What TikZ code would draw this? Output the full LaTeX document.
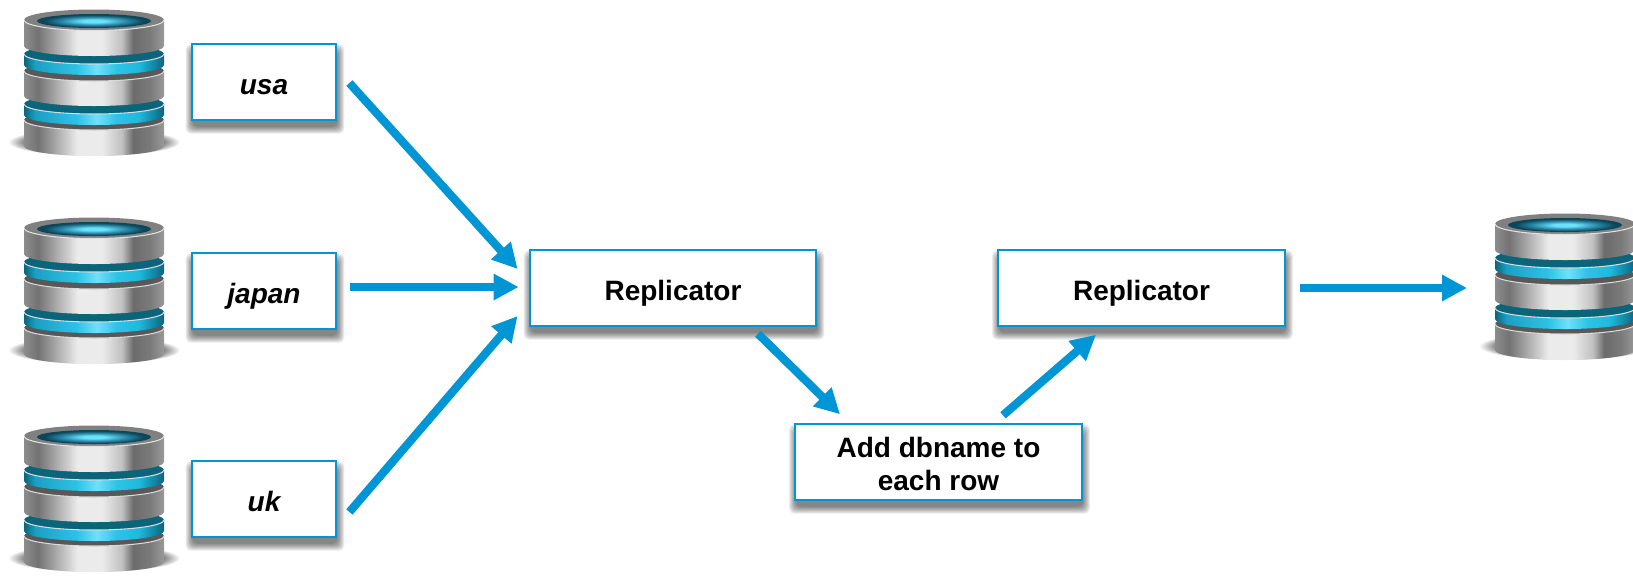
\documentclass[tikz,border=0pt]{standalone}
\usepackage{fontspec}
\setmainfont{Liberation Sans}
\usetikzlibrary{arrows.meta}
\usetikzlibrary{backgrounds}
\definecolor{flowblue}{RGB}{0,150,214}
\definecolor{ringtop}{RGB}{12,100,122}
\definecolor{disctop}{RGB}{88,88,88}
\definecolor{ringa}{RGB}{25,160,195}
\definecolor{ringb}{RGB}{45,195,230}
\definecolor{ringc}{RGB}{110,225,250}
\definecolor{ringd}{RGB}{30,185,220}
\definecolor{ringe}{RGB}{15,130,160}
\definecolor{wella}{RGB}{110,225,250}
\definecolor{wellb}{RGB}{40,140,170}
\definecolor{wellc}{RGB}{12,70,90}
\pgfdeclarehorizontalshading{metalband}{100bp}{color(0bp)=(gray);
  color(25bp)=(black!45); color(30bp)=(black!55); color(33bp)=(black!45);
  color(44bp)=(black!8); color(53bp)=(black!8); color(60bp)=(black!25);
  color(64bp)=(black!58); color(70bp)=(black!52); color(75bp)=(black!40); color(100bp)=(gray)}
\pgfdeclarehorizontalshading{blueband}{100bp}{color(0bp)=(ringtop);
  color(25bp)=(ringtop); color(29bp)=(ringa);
  color(44bp)=(ringb); color(51bp)=(ringc); color(58bp)=(ringb);
  color(66bp)=(ringd); color(72bp)=(ringe);
  color(75bp)=(ringtop); color(100bp)=(ringtop)}
\pgfdeclareradialshading{wellshade}{\pgfpoint{0bp}{0bp}}{color(0bp)=(wella);
  color(5bp)=(wella); color(14bp)=(wellb); color(22bp)=(wellc); color(50bp)=(wellc)}
\pgfdeclareradialshading{groundshade}{\pgfpoint{0bp}{0bp}}{color(0bp)=(black!65);
  color(19bp)=(black!60); color(25bp)=(white); color(50bp)=(white)}
% one layer of the stack: top, bottom, shading, colour of its upper face
\newcommand{\dbband}[4]{
  \shade[shading=#3] (-70,-#2) arc(180:360:70 and 10) -- (70,-#1) -- (-70,-#1) -- cycle;
  \fill[#4] (0,-#1) ellipse (70 and 10);
  \draw[black!15,line width=.8pt] (-70,-#1) arc(180:360:70 and 10);
}
\tikzset{
  flowbox/.style={shape=rectangle,draw=flowblue,line width=1.6pt,fill=white,inner sep=0pt,
    font=\fontsize{21}{24.75}\selectfont\bfseries,align=center},
  smallbox/.style={flowbox,minimum width=108.5pt,minimum height=56.5pt,text height=18.5pt,text depth=0pt,
    font=\fontsize{21}{24.75}\selectfont\bfseries\itshape},
  widebox/.style={flowbox,minimum width=215pt,minimum height=56.5pt},
  flowarrow/.style={-{Triangle[length=18.75pt,width=18.75pt]},line width=6.2pt,draw=flowblue},
  softedge/.style={fill=black,fill opacity=.08,rounded corners=4pt},
  dbstack/.pic={
    \shade[shading=groundshade] (0,-142) ellipse (86 and 14);
    \dbband{120}{146}{metalband}{disctop}
    \dbband{104}{115}{blueband}{ringtop}
    \dbband{71}{96}{metalband}{disctop}
    \dbband{54}{65}{blueband}{ringtop}
    \shade[shading=metalband] (-70,-46) arc(180:360:70 and 10) -- (70,-20) -- (-70,-20) -- cycle;
    \fill[black!50] (0,-20) ellipse (70 and 10.5);
    \draw[black!12,line width=.8pt] (-70,-20) arc(180:360:70 and 10.5);
    \shade[shading=wellshade] (0,-21) ellipse (57 and 7);
  }
}
\begin{document}
\begin{tikzpicture}[x=.75pt,y=.75pt]
      \useasboundingbox (0,0) rectangle (1633,-576);
      % sources
      \pic at (94,0) {dbstack};
      \pic at (94,-208) {dbstack};
      \pic at (94,-416) {dbstack};
      \node[smallbox] (usa) at (264,-82) {usa};
      \node[smallbox] (japan) at (264,-291) {japan};
      \node[smallbox] (uk) at (264,-499) {uk};
      % middle row
      \node[widebox,text height=18pt,text depth=0pt] (repl1) at (673,-288) {Replicator};
      \node[widebox,text height=43pt,text depth=0pt] (addname) at (938.5,-462) {Add dbname to\\each row};
      \node[widebox,text height=18pt,text depth=0pt] (repl2) at (1141.5,-288) {Replicator};
      % target
      \pic at (1565,-204) {dbstack};
      \coordinate (target) at (1467,-288);
      % soft shadows under the boxes
      \begin{scope}[on background layer]
        \foreach \boxname in {usa,japan,uk,repl1,addname,repl2}
          \foreach \edge in {-1,0,...,6}
            \path[softedge] ([shift={(1-\edge,-7-\edge)}]\boxname.south west) rectangle ([shift={(1+\edge,-7+\edge)}]\boxname.north east);
      \end{scope}
      % usa, japan, uk -> replicator
      \draw[flowarrow] ([shift={(12,-1)}]usa.east) -- ([shift={(-11,19)}]repl1.west);
      \draw[flowarrow] ([shift={(13,4)}]japan.east) -- ([shift={(-10,1)}]repl1.west);
      \draw[flowarrow] ([shift={(12,-13)}]uk.east) -- ([shift={(-11,-28)}]repl1.west);
      % through the row filter
      \draw[flowarrow] ([shift={(85,-7)}]repl1.south) -- ([shift={(-98.5,9)}]addname.north);
      \draw[flowarrow] ([shift={(64.5,8)}]addname.north) -- ([shift={(-45.5,-8)}]repl2.south);
      \draw[flowarrow] ([shift={(14.5,0)}]repl2.east) -- (target);
\end{tikzpicture}
\end{document}
